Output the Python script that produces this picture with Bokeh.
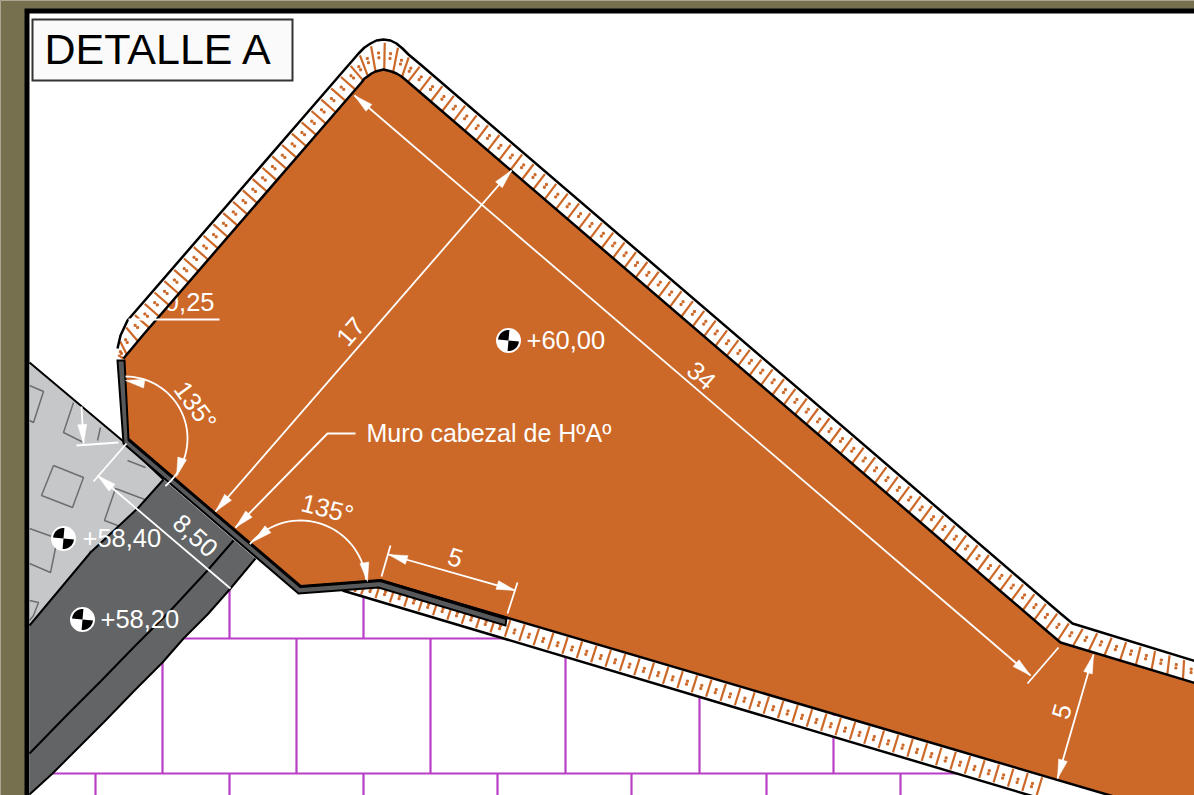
import math
from bokeh.plotting import figure
from bokeh.embed import file_html
from bokeh.resources import INLINE
from bokeh.models import Range1d
from bokeh.core.properties import value

# ---------- drawing data (in drawing units, y downwards) ----------
OLIVE, BLACK, WHITE = "#77704f", "#000000", "#ffffff"
ORANGE, LIGHT, DARK, WALL, MAGENTA, SQUARE = "#cc6828", "#c6c7c9", "#636466", "#58595b", "#b93fc7", "#6d6e70"

sheet = [(0, 0), (1194, 0), (1194, 795), (0, 795)]
frame = [(24, 8), (1194, 8), (1194, 795), (24, 795)]
paper = [(29, 13), (1194, 13), (1194, 795), (29, 795)]
title_box = [(32, 19), (292, 19), (292, 80), (32, 80)]

top_outer = [(117, 358), (117, 348), (120, 335), (127, 320), (300, 120), (345, 68), (352, 60), (358, 53), (364, 47), (370, 43),
             (376, 40), (383, 39), (390, 40), (396, 43), (402, 48), (408, 54), (420, 64), (1060, 613), (1072, 623), (1196, 661)]
top_inner = [(123, 358), (123, 358), (128, 352), (143, 334), (316, 134), (361, 82), (364, 78), (367, 76), (371, 73), (375, 71),
             (379, 70), (383, 69), (387, 70), (391, 71), (396, 73), (401, 76), (407, 81), (1047, 631), (1060, 642), (1196, 683)]
low_outer = [(342, 590), (373, 599), (1040, 798)]
low_inner = [(345, 588), (379, 581), (1046, 778)]

body_rest = [(1196, 798), (1120, 798), (505, 617), (380, 580), (299, 586), (128, 440)]

light_area = [(29, 362), (123, 441), (163, 479), (138, 507), (90, 552), (29, 625)]
dark_area = [(163, 479), (255, 558), (230, 588), (207, 614), (183, 638), (162, 662), (135, 689), (105, 720), (78, 747),
             (52, 773), (29, 794), (29, 625), (90, 552), (138, 507)]
dark_mid = [(233, 540), (207, 570), (170, 610), (133, 647), (100, 681), (67, 714), (29, 753)]
wall = [(117, 360), (124, 360), (128, 439), (300, 586), (380, 580), (506, 618), (505, 625), (378, 587), (298, 593), (123, 443)]
wall_top = [(128, 439), (300, 586), (380, 580), (506, 618)]

squares = [
    [(29, 385), (43, 391), (33, 422), (29, 420)],
    [(53, 465), (83, 477), (72, 507), (41, 495), (53, 465)],
    [(73, 402), (63, 432), (83, 442)],
    [(147, 500), (115, 488), (104, 520), (133, 531)],
    [(29, 528), (57, 538), (50, 572), (29, 563)],
    [(29, 600), (38, 602), (33, 615), (29, 620)],
    [(90, 550), (86, 563)],
    [(100, 427), (97, 440)],
    [(127, 460), (145, 467)],
]

grid_h = [(183, 505, 638), (52, 960, 773)]
grid_v_upper = [229, 363]
grid_v_mid = [162, 296, 430, 565, 699, 833]
grid_v_low = [95, 229, 363, 497, 631, 766, 900]

dim_lines = [
    [(511, 170), (215, 511)],      # 17
    [(354, 95), (1030, 675)],      # 34
    [(1093, 654), (1057, 778)],    # 5 right
    [(388, 554), (515, 590)],      # 5 lower
    [(97, 475), (230, 588)],       # 8,50
    [(1058, 647), (1027, 683)],
    [(390, 545), (381, 576)],
    [(517, 582), (507, 613)],
    [(126, 443), (93, 481)],
    [(81, 406), (83, 443)],
    [(76, 445), (118, 442)],
    [(128, 319), (219, 319)],
    [(355, 433), (327, 433), (235, 527)],
]
arrow_heads = [
    ((480, 205), (511, 170)), ((246, 476), (215, 511)),
    ((390, 126), (354, 95)), ((994, 644), (1030, 675)),
    ((1087, 674), (1093, 654)), ((1063, 758), (1057, 778)),
    ((408, 560), (388, 554)), ((495, 584), (515, 590)),
    ((116, 491), (97, 475)), ((82, 428), (83, 443)),
    ((253, 509), (235, 527)),
]

arc_centers = [(125, 438), (300, 586)]
arc_radius = [62, 66]
arc_spans = [(-90, 50), (-140, -6)]
arc_heads = [
    ((143, 383), (125, 380)), ((181, 460), (176, 476)),
    ((266, 530), (253, 541)), ((364, 563), (367, 581)),
]

marks_x = [508, 63, 82]
marks_y = [340, 538, 619]
mark_labels = ["+60,00", "+58,40", "+58,20"]
mark_label_x = [526, 82, 100]

dim_text = ["17", "34", "5", "5", "8,50", "135°", "135°"]
dim_text_x = [350, 701, 1061, 455, 195, 195, 327]
dim_text_y = [331, 375, 711, 557, 535, 405, 508]
dim_text_angle = [49, -41, 74, -17, -42, -54, -14]

# ---------- figure ----------
p = figure(width=1194, height=795, output_backend="svg", toolbar_location=None,
           x_range=Range1d(0, 1194), y_range=Range1d(795, 0),
           min_border=0, border_fill_color=OLIVE, outline_line_color=None)
p.axis.visible = False
p.grid.visible = False
FONT = value("Liberation Sans")


def poly(pts, fill, line=None, width=1):
    p.patch([a for a, _ in pts], [b for _, b in pts], fill_color=fill,
            line_color=line, line_width=width, line_join="miter")


def path(pts, color, width):
    p.line([a for a, _ in pts], [b for _, b in pts], line_color=color, line_width=width)


def label(x, y, text, size, color=WHITE, angle=0, align="center"):
    p.text([x], [y], text=[text], text_font=FONT, text_font_size=f"{size}px", text_color=color,
           angle=angle, angle_units="deg", text_align=align, text_baseline="middle")


def walk(outer, inner, step):
    """Hatch stations along a pair of matched polylines."""
    out = []
    carry = step / 2
    for (o0, o1, i0, i1) in zip(outer, outer[1:], inner, inner[1:]):
        seg = math.dist(o0, o1)
        d = carry
        while d < seg:
            t = d / seg
            a = (o0[0] + (o1[0] - o0[0]) * t, o0[1] + (o1[1] - o0[1]) * t)
            b = (i0[0] + (i1[0] - i0[0]) * t, i0[1] + (i1[1] - i0[1]) * t)
            out.append((a, b))
            d += step
        carry = d - seg
    return out


def hatch(outer, inner):
    x0, y0, x1, y1, dx, dy = [], [], [], [], [], []
    for k, (a, b) in enumerate(walk(outer, inner, 7.5)):
        if k % 2 == 0:
            x0.append(a[0] + (b[0] - a[0]) * .1); y0.append(a[1] + (b[1] - a[1]) * .1)
            x1.append(b[0]); y1.append(b[1])
        else:
            for f in (.42, .58):
                dx.append(a[0] + (b[0] - a[0]) * f); dy.append(a[1] + (b[1] - a[1]) * f)
    p.segment(x0, y0, x1, y1, line_color=ORANGE, line_width=2.2)
    p.scatter(dx, dy, size=2, color=ORANGE, marker="square")


def head(tail, tip, length=19, half=4.5):
    ux, uy = tip[0] - tail[0], tip[1] - tail[1]
    n = math.hypot(ux, uy)
    ux, uy = ux / n, uy / n
    bx, by = tip[0] - ux * length, tip[1] - uy * length
    nx, ny = -uy * half, ux * half
    poly([tip, (bx + nx, by + ny), (bx - nx, by - ny)], WHITE, WHITE, 0.5)


poly(sheet, OLIVE)
poly(frame, BLACK)
poly(paper, WHITE)

for a, b, y in grid_h:
    path([(a, y), (b, y)], MAGENTA, 2.2)
for x in grid_v_upper:
    path([(x, 575), (x, 638)], MAGENTA, 2.2)
for x in grid_v_mid:
    path([(x, 638), (x, 773)], MAGENTA, 2.2)
for x in grid_v_low:
    path([(x, 773), (x, 795)], MAGENTA, 2.2)

poly(light_area, LIGHT)
for s in squares:
    path(s, SQUARE, 1.5)
poly(dark_area, DARK)
path(light_area[:3], BLACK, 2)
path(dark_area[1:11], BLACK, 2)
path(dark_area[11:] + dark_area[:1], BLACK, 2)
path(dark_mid, BLACK, 2)

poly(top_inner + body_rest, ORANGE)
label(214, 301, "0,25", 25.5, align="right")

poly(top_outer + top_inner[::-1], WHITE)
poly(low_outer + low_inner[::-1], WHITE)
hatch(top_outer, top_inner)
hatch(low_outer, low_inner)
path(top_outer[1:], BLACK, 2.5)
path(top_inner[1:], BLACK, 2.5)
path([low_outer[0], low_outer[-1]], BLACK, 2.5)
path([(380, 580), (1120, 798)], BLACK, 2.5)
poly(wall, WALL, BLACK, 2)
path(wall_top, BLACK, 3)

for d in dim_lines:
    path(d, WHITE, 1.8)
for c, r, (a0, a1) in zip(arc_centers, arc_radius, arc_spans):
    n = 40
    path([(c[0] + r * math.cos(math.radians(a0 + (a1 - a0) * i / n)),
           c[1] + r * math.sin(math.radians(a0 + (a1 - a0) * i / n))) for i in range(n + 1)], WHITE, 1.8)
for t, h in arrow_heads + arc_heads:
    head(t, h)

for x, y in zip(marks_x, marks_y):
    circle = [(x + 12.5 * math.cos(math.radians(i * 9)), y + 12.5 * math.sin(math.radians(i * 9))) for i in range(40)]
    poly(circle, WHITE)
    for a0 in (180, 0):
        wedge = [(x, y)] + [(x + 10.5 * math.cos(math.radians(a0 + 5 + i * 9)),
                             y + 10.5 * math.sin(math.radians(a0 + 5 + i * 9))) for i in range(11)]
        poly(wedge, BLACK)
for x, y, t in zip(mark_label_x, marks_y, mark_labels):
    label(x, y - 1, t, 25.5, align="left")
label(366, 432, "Muro cabezal de HºAº", 25, align="left")
for x, y, t, a in zip(dim_text_x, dim_text_y, dim_text, dim_text_angle):
    label(x, y, t, 25.5, angle=a)

poly(title_box, "#fafafa", "#333333", 2)
label(44, 48, "DETALLE A", 43, BLACK, align="left")

html = file_html(p, INLINE)
html = html.replace("<head>", "<head><style>html,body{margin:0;padding:0;overflow:hidden;background:%s}</style>" % OLIVE, 1)
open("out.html", "w").write(html)
